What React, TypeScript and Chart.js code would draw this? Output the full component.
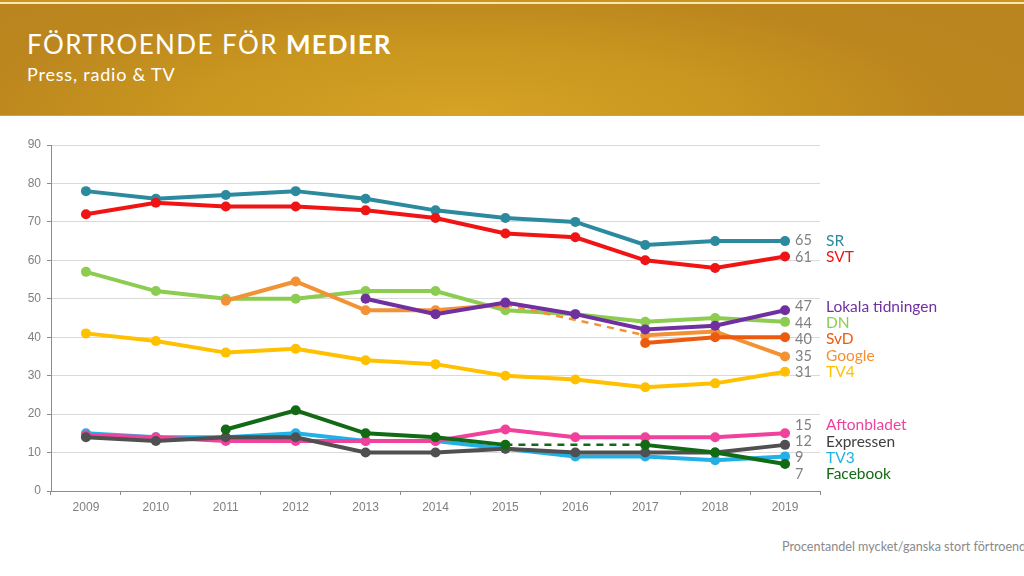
import React, { useEffect, useRef } from "react";
import { Chart, registerables } from "chart.js";

Chart.register(...registerables);

const years = ["2009", "2010", "2011", "2012", "2013", "2014", "2015", "2016", "2017", "2018", "2019"];
const yTicks = [0, 10, 20, 30, 40, 50, 60, 70, 80, 90];

const sr = [78, 76, 77, 78, 76, 73, 71, 70, 64, 65, 65];
const svt = [72, 75, 74, 74, 73, 71, 67, 66, 60, 58, 61];
const lokala = [null, null, null, null, 50, 46, 49, 46, 42, 43, 47];
const dn = [57, 52, 50, 50, 52, 52, 47, 46, 44, 45, 44];
const svd = [null, null, null, null, null, null, null, null, 38.5, 40, 40];
const google = [null, null, 49.5, 54.5, 47, 47, 48.5, null, 40.5, 41.5, 35];
const tv4 = [41, 39, 36, 37, 34, 33, 30, 29, 27, 28, 31];
const aftonbladet = [14.5, 14, 13, 13, 13, 13, 16, 14, 14, 14, 15];
const expressen = [14, 13, 14, 14, 10, 10, 11, 10, 10, 10, 12];
const tv3 = [15, 14, 14, 15, 13, 13, 11, 9, 9, 8, 9];
const facebook = [null, null, 16, 21, 15, 14, 12, null, 12, 10, 7];

const seriesNames = ["SR", "SVT", "Lokala tidningen", "DN", "SvD", "Google", "TV4", "Aftonbladet", "Expressen", "TV3", "Facebook"];
const seriesColors = ["#2B8A9E", "#F01414", "#7030A0", "#8CCC50", "#EC5A10", "#F39234", "#FFC000", "#F0429C", "#505050", "#22B0E6", "#136A14"];
const labelColors = ["#2B8A9E", "#F01414", "#7030A0", "#8CCC50", "#EC5A10", "#F39234", "#FFC000", "#F0429C", "#404040", "#22B0E6", "#136A14"];
const seriesData = [sr, svt, lokala, dn, svd, google, tv4, aftonbladet, expressen, tv3, facebook];
// drawing order (first = top)
const drawOrder = [10, 8, 7, 9, 2, 4, 5, 3, 6, 1, 0];

const endLabels = {
  id: "endLabels",
  afterDatasetsDraw(chart: any) {
    const ctx = chart.ctx;
    const y = chart.scales.y;
    const area = chart.chartArea;
    const gap = 16.3;
    const items = seriesData.map((d, i) => {
      const last = d[d.length - 1] as number;
      return { ideal: y.getPixelForValue(last), value: Math.round(last), name: seriesNames[i], color: labelColors[i] };
    });
    items.sort((a, b) => a.ideal - b.ideal);
    let clusters = items.map((it) => ({ members: [it], start: it.ideal }));
    let changed = true;
    while (changed) {
      changed = false;
      for (let k = 0; k < clusters.length - 1; k++) {
        const a = clusters[k];
        const b = clusters[k + 1];
        if (a.start + a.members.length * gap > b.start) {
          const members = a.members.concat(b.members);
          const mean = members.reduce((s, m) => s + m.ideal, 0) / members.length;
          const start = mean - ((members.length - 1) * gap) / 2;
          clusters.splice(k, 2, { members, start });
          changed = true;
          break;
        }
      }
    }
    ctx.save();
    ctx.textBaseline = "middle";
    ctx.textAlign = "left";
    clusters.forEach((c) => {
      c.members.forEach((m, j) => {
        const py = c.start + j * gap;
        ctx.font = "14.5px Lato";
        ctx.fillStyle = "#808080";
        ctx.fillText(String(m.value), area.right - 25, py);
        ctx.font = "15.5px Lato";
        ctx.fillStyle = m.color;
        ctx.fillText(m.name, area.right + 6, py);
      });
    });
    ctx.restore();
  },
};

const skipped = (c: any, v: any) => (c.p0.skip || c.p1.skip ? v : undefined);

export default function App() {
  const ref = useRef<HTMLCanvasElement>(null);
  useEffect(() => {
    const datasets = drawOrder.map((i) => ({
      label: seriesNames[i],
      data: seriesData[i],
      borderColor: seriesColors[i],
      backgroundColor: seriesColors[i],
      pointBackgroundColor: seriesColors[i],
      pointBorderColor: seriesColors[i],
      borderWidth: 4,
      pointRadius: 5,
      pointBorderWidth: 0,
      pointHoverRadius: 5,
      spanGaps: true,
      tension: 0,
      fill: false,
      segment: {
        borderDash: (c: any) => skipped(c, [7, 6]),
        borderWidth: (c: any) => skipped(c, 2.5),
      },
    }));
    const chart = new Chart(ref.current!, {
      type: "line",
      data: { labels: years, datasets },
      options: {
        animation: false,
        responsive: false,
        devicePixelRatio: 1,
        layout: { padding: { top: 25, right: 204, left: 0, bottom: 0 } },
        plugins: { legend: { display: false }, tooltip: { enabled: false } },
        events: [],
        scales: {
          x: {
            type: "category",
            offset: true,
            grid: { display: true, offset: true, drawOnChartArea: false, drawTicks: true, tickLength: 4, color: "#8c8c8c" },
            border: { display: true, color: "#8c8c8c", width: 1 },
            ticks: { color: "#7f7f7f", font: { family: "Liberation Sans", size: 12 }, padding: 5, maxRotation: 0 },
            afterFit: (s: any) => {
              s.height = 39;
            },
          },
          y: {
            min: 0,
            max: 90,
            afterBuildTicks: (s: any) => {
              s.ticks = yTicks.map((v) => ({ value: v }));
            },
            grid: { color: "#d9d9d9", lineWidth: 1, drawTicks: true, tickLength: 4, tickColor: "#8c8c8c" },
            border: { display: true, color: "#8c8c8c", width: 1 },
            ticks: { color: "#7f7f7f", font: { family: "Liberation Sans", size: 12 }, padding: 6 },
            afterFit: (s: any) => {
              s.width = 51;
            },
          },
        },
      },
      plugins: [endLabels],
    });
    return () => chart.destroy();
  }, []);

  return (
    <div style={{ position: "fixed", left: 0, top: 0, width: 1024, height: 576, background: "#fff", overflow: "hidden", fontFamily: "Lato, 'Noto Sans', sans-serif" }}>
      <div style={{ position: "absolute", left: 0, top: 0, width: 1024, height: 2, background: "#c8961f" }} />
      <div style={{ position: "absolute", left: 0, top: 2, width: 1024, height: 2, background: "#f5e6b2" }} />
      <div
        style={{
          position: "absolute",
          left: 0,
          top: 4,
          width: 1024,
          height: 111,
          background:
            "radial-gradient(ellipse 60% 140% at 45% 100%, #D6A326 0%, #C9961F 45%, #BC861E 80%, #BA851E 100%)",
          borderBottom: "1px solid #c9a24a",
        }}
      >
        <div style={{ position: "absolute", left: 27, top: 25, fontSize: 26, lineHeight: "31px", color: "#fff", whiteSpace: "nowrap", letterSpacing: 1.4 }}>
          FÖRTROENDE FÖR <b style={{ letterSpacing: 1.2 }}>MEDIER</b>
        </div>
        <div style={{ position: "absolute", left: 27, top: 59, fontSize: 18, lineHeight: "22px", color: "#fff", whiteSpace: "nowrap", letterSpacing: 0.8 }}>
          Press, radio &amp; TV
        </div>
      </div>
      <canvas ref={ref} width={1024} height={410} style={{ position: "absolute", left: 0, top: 120, width: 1024, height: 410 }} />
      <div style={{ position: "absolute", left: 782, top: 538, fontSize: 12.6, lineHeight: "17px", color: "#8a8a8a", whiteSpace: "nowrap" }}>
        Procentandel mycket/ganska stort förtroende
      </div>
    </div>
  );
}
